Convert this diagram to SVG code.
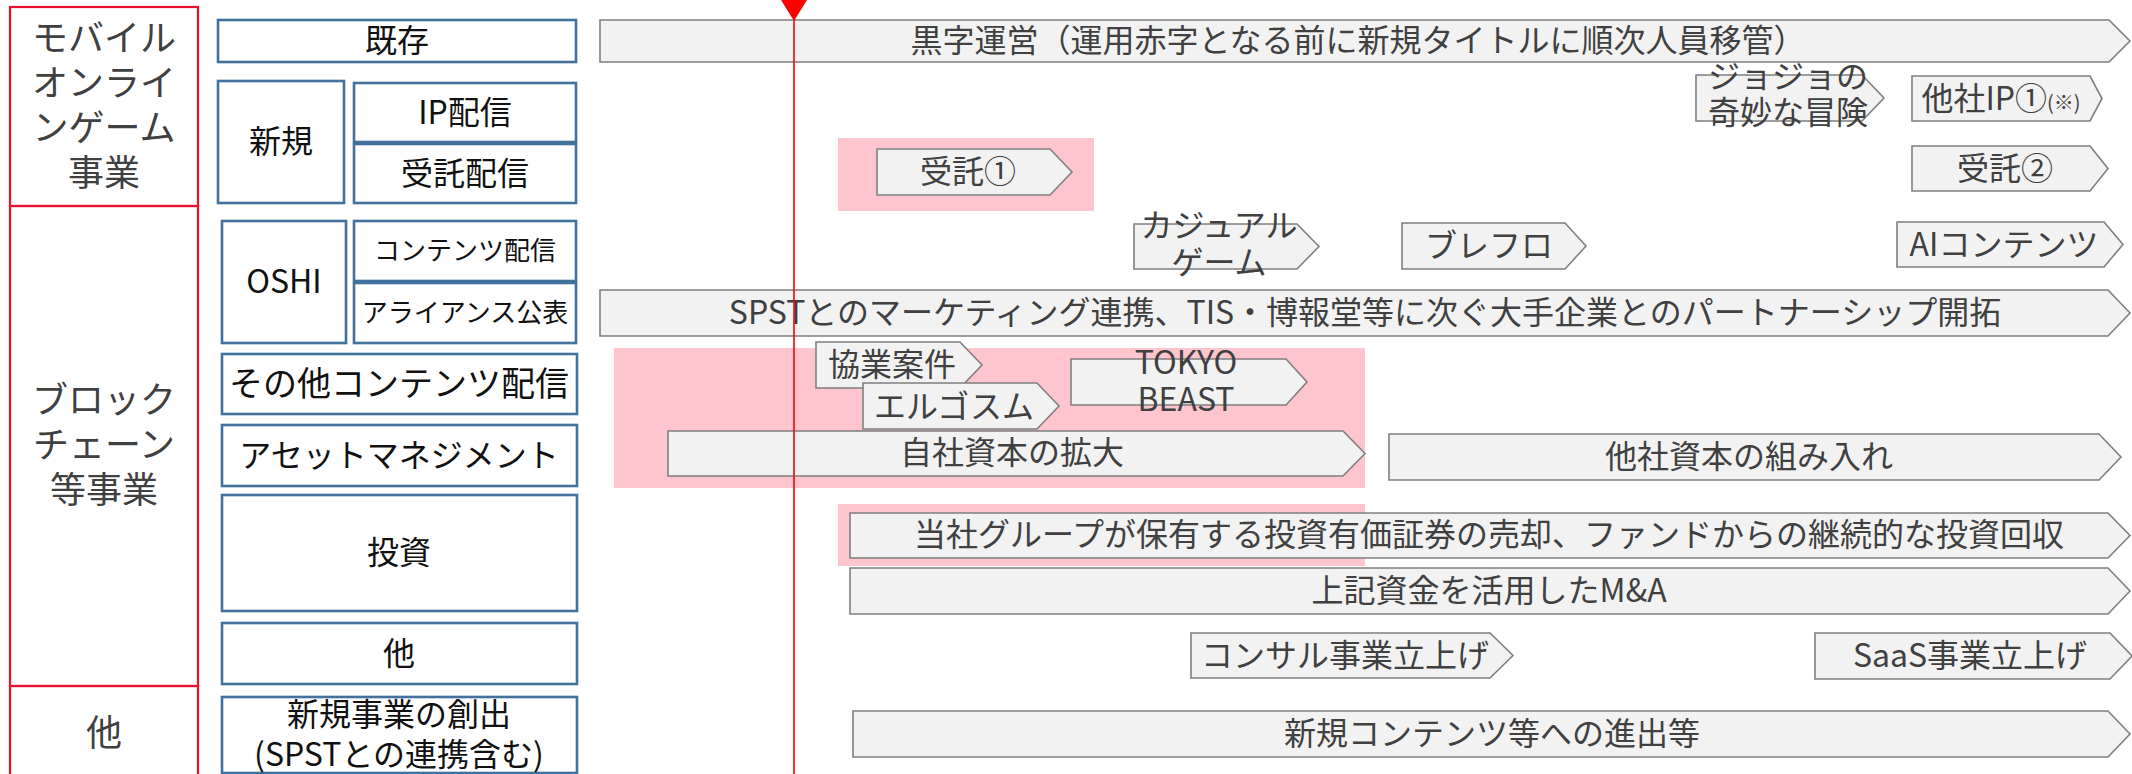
<svg xmlns="http://www.w3.org/2000/svg" width="2132" height="774" viewBox="0 0 2132 774">
<style>
text{font-family:"Noto Sans CJK JP","Noto Sans",sans-serif;}
.cat{fill:none;stroke:#e8102c;stroke-width:2.2;}
.cat-t{fill:#404040;font-size:36px;text-anchor:middle;}
.lbl{fill:#ffffff;stroke:#41719c;stroke-width:2.6;}
.lbl-t{fill:#111111;font-size:32px;text-anchor:middle;}
.bar{fill:#f2f2f2;stroke:#7f7f7f;stroke-width:1.6;}
.bar-t{fill:#404040;font-size:32px;text-anchor:middle;}
.hl{fill:#ffc5ce;stroke:none;}
</style>

<g id="highlights">
<rect class="hl" x="838" y="138" width="256" height="73"/>
<rect class="hl" x="614" y="348" width="751" height="140"/>
<rect class="hl" x="838" y="504" width="527" height="62"/>
</g>

<g id="cat-mobile">
<rect class="cat" x="10" y="7" width="188" height="199"/>
<text class="cat-t" x="104" y="51">モバイル</text>
<text class="cat-t" x="104" y="96">オンライ</text>
<text class="cat-t" x="104" y="141">ンゲーム</text>
<text class="cat-t" x="104" y="186">事業</text>
</g>
<g id="cat-blockchain">
<rect class="cat" x="10" y="206" width="188" height="480"/>
<text class="cat-t" x="104" y="413">ブロック</text>
<text class="cat-t" x="104" y="458">チェーン</text>
<text class="cat-t" x="104" y="503">等事業</text>
</g>
<g id="cat-other">
<rect class="cat" x="10" y="686" width="188" height="92"/>
<text class="cat-t" x="104" y="746">他</text>
</g>

<g id="lbl-kison">
<rect class="lbl" x="218" y="20" width="358" height="42"/>
<text class="lbl-t" x="397" y="52">既存</text>
</g>
<g id="lbl-shinki">
<rect class="lbl" x="218" y="81" width="126" height="122"/>
<text class="lbl-t" x="281" y="153">新規</text>
</g>
<g id="lbl-ip">
<rect class="lbl" x="354" y="83" width="222" height="59"/>
<text class="lbl-t" x="465" y="124">IP配信</text>
</g>
<g id="lbl-jutaku">
<rect class="lbl" x="354" y="144" width="222" height="59"/>
<text class="lbl-t" x="465" y="185">受託配信</text>
</g>
<g id="lbl-oshi">
<rect class="lbl" x="222" y="221" width="124" height="122"/>
<text class="lbl-t" x="284" y="293">OSHI</text>
</g>
<g id="lbl-contents">
<rect class="lbl" x="354" y="221" width="222" height="60"/>
<text class="lbl-t" x="465" y="260" style="font-size:26px">コンテンツ配信</text>
</g>
<g id="lbl-alliance">
<rect class="lbl" x="354" y="283" width="222" height="60"/>
<text class="lbl-t" x="465" y="322" style="font-size:26px">アライアンス公表</text>
</g>
<g id="lbl-othercontents">
<rect class="lbl" x="222" y="354" width="355" height="60"/>
<text class="lbl-t" x="399" y="396" style="font-size:34px">その他コンテンツ配信</text>
</g>
<g id="lbl-asset">
<rect class="lbl" x="222" y="425" width="355" height="61"/>
<text class="lbl-t" x="399" y="467">アセットマネジメント</text>
</g>
<g id="lbl-invest">
<rect class="lbl" x="222" y="495" width="355" height="116"/>
<text class="lbl-t" x="399" y="564">投資</text>
</g>
<g id="lbl-ta">
<rect class="lbl" x="222" y="623" width="355" height="61"/>
<text class="lbl-t" x="399" y="665">他</text>
</g>
<g id="lbl-newbiz">
<rect class="lbl" x="222" y="697" width="355" height="76"/>
<text class="lbl-t" x="399" y="726">新規事業の創出</text>
<text class="lbl-t" x="399" y="766">(SPSTとの連携含む)</text>
</g>

<g id="bar-kuroji">
<path class="bar" d="M600,20 H2109 L2130,41 L2109,62 H600 Z"/>
<text class="bar-t" x="1358" y="52">黒字運営（運用赤字となる前に新規タイトルに順次人員移管）</text>
</g>
<g id="bar-jojo">
<path class="bar" d="M1696,75 H1862 L1884,98 L1862,121 H1696 Z"/>
<text class="bar-t" x="1788" y="88">ジョジョの</text>
<text class="bar-t" x="1788" y="124">奇妙な冒険</text>
</g>
<g id="bar-taship">
<path class="bar" d="M1912,76 H2090 L2102,98.5 L2090,121 H1912 Z"/>
<text class="bar-t" x="2001" y="110">他社IP①<tspan style="font-size:20px">(※)</tspan></text>
</g>
<g id="bar-jutaku1">
<path class="bar" d="M877,149 H1050 L1072,172 L1050,195 H877 Z"/>
<text class="bar-t" x="968" y="183">受託①</text>
</g>
<g id="bar-jutaku2">
<path class="bar" d="M1912,146 H2090 L2108,168.5 L2090,191 H1912 Z"/>
<text class="bar-t" x="2005" y="180">受託②</text>
</g>
<g id="bar-casual">
<path class="bar" d="M1134,224 H1297 L1319,246.5 L1297,269 H1134 Z"/>
<text class="bar-t" x="1219" y="237">カジュアル</text>
<text class="bar-t" x="1219" y="274">ゲーム</text>
</g>
<g id="bar-brefro">
<path class="bar" d="M1402,223 H1565 L1586,246 L1565,269 H1402 Z"/>
<text class="bar-t" x="1489" y="257">ブレフロ</text>
</g>
<g id="bar-ai">
<path class="bar" d="M1897,222 H2104 L2123,244.5 L2104,267 H1897 Z"/>
<text class="bar-t" x="2004" y="256">AIコンテンツ</text>
</g>
<g id="bar-spst">
<path class="bar" d="M600,290 H2108 L2130,313 L2108,336 H600 Z"/>
<text class="bar-t" x="1365" y="324">SPSTとのマーケティング連携、TIS・博報堂等に次ぐ大手企業とのパートナーシップ開拓</text>
</g>
<g id="bar-kyogyo">
<path class="bar" d="M816,342 H960 L982,365 L960,388 H816 Z"/>
<text class="bar-t" x="892" y="376">協業案件</text>
</g>
<g id="bar-ergosum">
<path class="bar" d="M863,383 H1037 L1059,406 L1037,429 H863 Z"/>
<text class="bar-t" x="954" y="418">エルゴスム</text>
</g>
<g id="bar-tokyobeast">
<path class="bar" d="M1071,359 H1286 L1307,382 L1286,405 H1071 Z"/>
<text class="bar-t" x="1186" y="374">TOKYO</text>
<text class="bar-t" x="1186" y="411">BEAST</text>
</g>
<g id="bar-jisha">
<path class="bar" d="M668,431 H1343 L1365,453.5 L1343,476 H668 Z"/>
<text class="bar-t" x="1012" y="464">自社資本の拡大</text>
</g>
<g id="bar-tasha">
<path class="bar" d="M1389,434 H2099 L2121,457 L2099,480 H1389 Z"/>
<text class="bar-t" x="1749" y="468">他社資本の組み入れ</text>
</g>
<g id="bar-baikyaku">
<path class="bar" d="M850,513 H2108 L2130,535.5 L2108,558 H850 Z"/>
<text class="bar-t" x="1489" y="546">当社グループが保有する投資有価証券の売却、ファンドからの継続的な投資回収</text>
</g>
<g id="bar-ma">
<path class="bar" d="M850,568 H2108 L2130,591 L2108,614 H850 Z"/>
<text class="bar-t" x="1489" y="602">上記資金を活用したM&amp;A</text>
</g>
<g id="bar-consul">
<path class="bar" d="M1191,633 H1490 L1513,655.5 L1490,678 H1191 Z"/>
<text class="bar-t" x="1345" y="667">コンサル事業立上げ</text>
</g>
<g id="bar-saas">
<path class="bar" d="M1815,633 H2110 L2132,656 L2110,679 H1815 Z"/>
<text class="bar-t" x="1970" y="667">SaaS事業立上げ</text>
</g>
<g id="bar-newcontents">
<path class="bar" d="M853,711 H2108 L2130,734 L2108,757 H853 Z"/>
<text class="bar-t" x="1492" y="745">新規コンテンツ等への進出等</text>
</g>

<g id="connectors">
<line x1="794" y1="18" x2="794" y2="774" stroke="#ff0000" stroke-width="1.6"/>
<path d="M781,0 H807 L794,21 Z" fill="#ff0000"/>
</g>
</svg>
